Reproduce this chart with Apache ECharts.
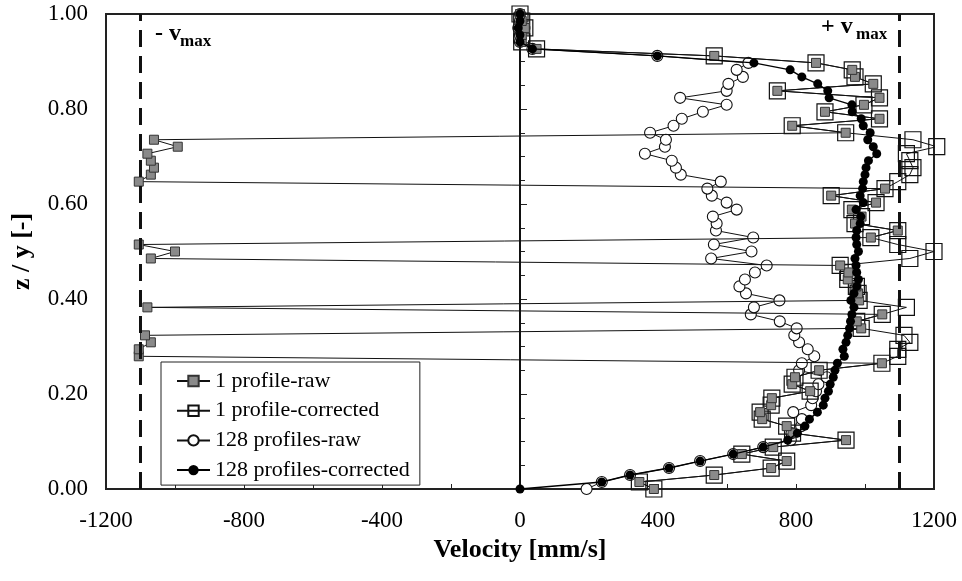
<!DOCTYPE html>
<html><head><meta charset="utf-8">
<script src="https://cdn.jsdelivr.net/npm/echarts@6/dist/echarts.min.js"></script>
<style>html,body{margin:0;padding:0;background:#fff}#c{width:962px;height:581px}</style>
</head><body><div id="c"></div>
<script>
// relative depth z / y of each measurement bin
const zLevels = [0,0.0147,0.0294,0.0441,0.0588,0.0735,0.0882,0.1029,0.1176,0.1324,
  0.1471,0.1618,0.1765,0.1912,0.2059,0.2206,0.2353,0.2500,0.2647,0.2794,
  0.2941,0.3088,0.3235,0.3382,0.3529,0.3676,0.3824,0.3971,0.4118,0.4265,
  0.4412,0.4559,0.4706,0.4853,0.5000,0.5147,0.5294,0.5441,0.5588,0.5735,
  0.5882,0.6029,0.6176,0.6324,0.6471,0.6618,0.6765,0.6912,0.7059,0.7206,
  0.7353,0.7500,0.7647,0.7794,0.7941,0.8088,0.8235,0.8382,0.8529,0.8676,
  0.8824,0.8971,0.9118,0.9265,0.9412,0.9559,0.9706,0.9853,1.0000];
// velocities [mm/s]
const raw1 = [388,346,563,728,773,643,734,945,790,773,
  702,696,728,730,841,789,797,867,1049,-1105,
  -1105,-1070,-1087,989,976,1050,-1080,983,980,975,
  950,952,928,-1070,-1000,-1105,1017,1095,971,990,
  962,1032,902,1058,-1105,-1070,-1061,-1070,-1080,-992,
  -1061,944,789,1042,884,997,1042,746,1024,971,
  963,858,563,48,5,5,14,5,0];
const corr1 = [388,346,563,728,773,643,734,945,790,773,
  702,696,728,730,841,789,797,867,1049,1095,
  1095,1130,1113,989,976,1050,1120,983,980,975,
  950,952,928,1130,1200,1095,1017,1095,971,990,
  962,1032,902,1058,1095,1130,1139,1130,1120,1208,
  1139,944,789,1042,884,997,1042,746,1024,971,
  963,858,563,48,5,5,14,5,0];
const raw128 = [193,237,319,432,522,618,705,785,787,815,
  817,792,844,848,858,865,889,809,817,853,
  834,809,795,802,753,669,678,752,655,636,
  652,681,715,554,671,562,676,568,570,559,
  628,599,556,543,582,466,452,440,362,420,
  423,377,445,469,530,599,464,599,604,646,
  628,662,398,36,0,0,-5,0,0];
const corr128 = [0,237,319,432,522,618,705,776,804,826,
  839,862,879,884,894,899,908,913,920,940,
  936,945,950,955,958,962,968,959,968,976,
  981,976,974,971,981,976,974,976,986,988,
  974,995,986,993,995,1000,1003,1010,1034,1024,
  1008,1015,995,989,963,962,896,892,863,817,
  783,678,398,36,0,0,-5,0,0];
const seriesNames = ['1 profile-raw','1 profile-corrected','128 profiles-raw','128 profiles-corrected'];
const vmaxLines = [-1100, 1100];
const zeroLine = [0];
const vmaxLabels = ['- v', '+ v'];
const xRange = [-1200, 1200, 400];
const yRange = [0, 1, 0.2];

const FONT = '"Liberation Serif", "Times New Roman", serif';
function pairs(xs){ return xs.map((x,i)=>[x, zLevels[i]]); }

const chart = echarts.init(document.getElementById('c'), null, {renderer:'canvas'});
chart.setOption({
  animation:false,
  backgroundColor:'#fff',
  grid:{left:106, right:28, top:14, bottom:92, show:true, borderColor:'#222', borderWidth:2, backgroundColor:'transparent'},
  xAxis:{type:'value', min:xRange[0], max:xRange[1], interval:xRange[2],
    name:'Velocity [mm/s]', nameLocation:'middle', nameGap:45,
    nameTextStyle:{fontFamily:FONT, fontSize:26, fontWeight:'bold', color:'#000'},
    axisLine:{show:true, lineStyle:{color:'#222', width:2}},
    axisTick:{show:true, inside:true, length:5, lineStyle:{color:'#222', width:1}},
    minorTick:{show:true, splitNumber:2, length:5, lineStyle:{color:'#222', width:1}},
    splitLine:{show:false},
    axisLabel:{fontFamily:FONT, fontSize:23, color:'#000', margin:20, formatter:v=>String(v)}},
  yAxis:{type:'value', min:yRange[0], max:yRange[1], interval:yRange[2],
    name:'z / y [-]', nameLocation:'middle', nameGap:71, nameRotate:90,
    nameTextStyle:{fontFamily:FONT, fontSize:26, fontWeight:'bold', color:'#000'},
    axisLine:{show:true, lineStyle:{color:'#222', width:2}},
    axisTick:{show:true, inside:true, length:7, lineStyle:{color:'#222', width:1}},
    minorTick:{show:true, splitNumber:4, length:5, lineStyle:{color:'#222', width:1}},
    splitLine:{show:false},
    axisLabel:{fontFamily:FONT, fontSize:23, color:'#000', margin:18, formatter:v=>v.toFixed(2)}},
  legend:{orient:'vertical', left:161, top:362, itemWidth:33, itemHeight:13, itemGap:7.7,
    padding:[8,10,4,15], backgroundColor:'#fff', borderColor:'#222', borderWidth:1, borderRadius:0,
    textStyle:{fontFamily:FONT, fontSize:22, color:'#000'},
    data:seriesNames},
  graphic:[
    {type:'text', left:155, top:22, style:{text:vmaxLabels[0], font:'bold 24px '+FONT, fill:'#000'}},
    {type:'text', left:180, top:33, style:{text:'max', font:'bold 17px '+FONT, fill:'#000'}},
    {type:'text', left:821, top:15, style:{text:vmaxLabels[1], font:'bold 24px '+FONT, fill:'#000'}},
    {type:'text', left:856, top:26, style:{text:'max', font:'bold 17px '+FONT, fill:'#000'}}
  ],
  series:[
    {name:seriesNames[2], type:'line', data:pairs(raw128), z:2, clip:false,
      symbol:'circle', symbolSize:11, showAllSymbol:true,
      itemStyle:{color:'#fff', borderColor:'#111', borderWidth:1.1},
      lineStyle:{color:'#111', width:1}, emphasis:{disabled:true},
      markLine:{silent:true, symbol:'none', label:{show:false},
        lineStyle:{color:'#111', width:2, type:'solid'},
        data:zeroLine.map(v=>({xAxis:v}))}},
    {name:seriesNames[1], type:'line', data:pairs(corr1), z:3, clip:false,
      symbol:'rect', symbolSize:16, showAllSymbol:true,
      itemStyle:{color:'rgba(255,255,255,0)', borderColor:'#111', borderWidth:1.2},
      lineStyle:{color:'#111', width:1}, emphasis:{disabled:true}},
    {name:seriesNames[0], type:'line', data:pairs(raw1), z:4, clip:false,
      symbol:'rect', symbolSize:9, showAllSymbol:true,
      itemStyle:{color:'#8a8a8a', borderColor:'#333', borderWidth:1},
      lineStyle:{color:'#111', width:1}, emphasis:{disabled:true},
      markLine:{silent:true, symbol:'none', label:{show:false},
        lineStyle:{color:'#111', width:3, type:[17,9]},
        data:vmaxLines.map(v=>({xAxis:v}))}},
    {name:seriesNames[3], type:'line', data:pairs(corr128), z:5, clip:false,
      symbol:'circle', symbolSize:9, showAllSymbol:true,
      itemStyle:{color:'#000', borderColor:'#000', borderWidth:0},
      lineStyle:{color:'#000', width:1.4}, emphasis:{disabled:true}}
  ]
});
</script></body></html>
